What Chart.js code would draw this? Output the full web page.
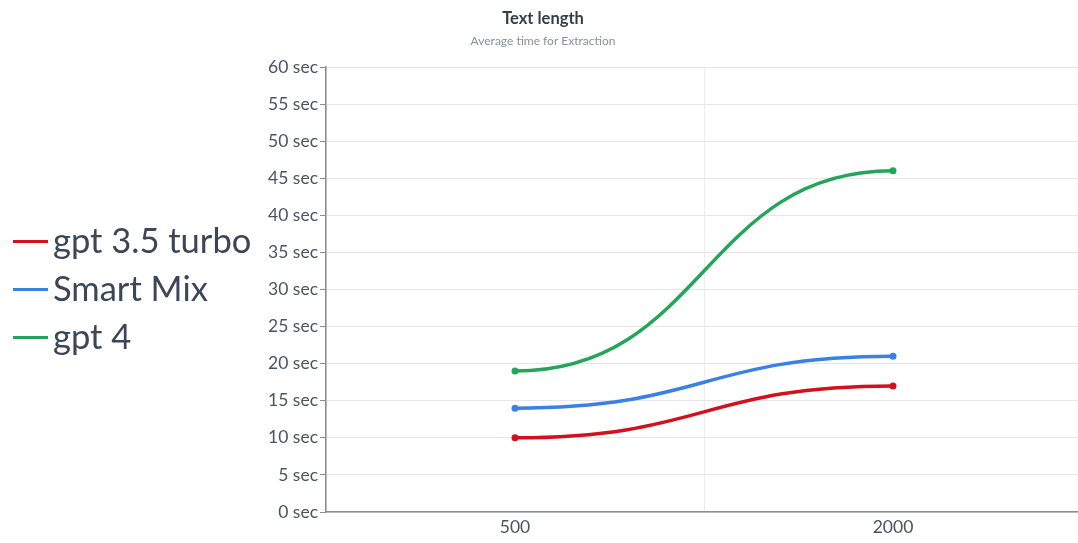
<!DOCTYPE html>
<html>
<head>
<meta charset="utf-8">
<script src="https://cdn.jsdelivr.net/npm/chart.js@4"></script>
<style>
  html, body { margin: 0; padding: 0; background: #fff; overflow: hidden; }
  #wrap { width: 1086px; height: 543px; }
</style>
</head>
<body>
<div id="wrap"><canvas id="lineChart" width="1086" height="543"></canvas></div>
<script>
const textLengths = ["500", "2000"];
const gpt35Turbo = [10, 17];
const smartMix = [14, 21];
const gpt4 = [19, 46];

const textColor = '#3b4656';

// smooth S-curves: horizontal handles at every point
const flatCurve = {
    id: 'flatCurve',
    beforeDatasetDraw(chart, args) {
        const pts = args.meta.data;
        for (let i = 0; i < pts.length; i++) {
            const p = pts[i], prev = pts[i - 1], next = pts[i + 1];
            p.cp1x = prev ? p.x - (p.x - prev.x) / 2 : p.x;
            p.cp1y = p.y;
            p.cp2x = next ? p.x + (next.x - p.x) / 2 : p.x;
            p.cp2y = p.y;
        }
        args.meta.dataset._pointsUpdated = true;
    }
};

// big legend on the left, lines + labels
const sideLegend = {
    id: 'sideLegend',
    afterDraw(chart) {
        const ctx = chart.ctx;
        const area = chart.chartArea;
        const step = 48;
        const sets = chart.data.datasets;
        const y0 = (area.top + area.bottom) / 2 - step * (sets.length - 1) / 2;
        ctx.save();
        ctx.font = '34.5px Lato';
        ctx.textBaseline = 'middle';
        sets.forEach((ds, i) => {
            const y = y0 + i * step;
            ctx.fillStyle = ds.borderColor;
            ctx.fillRect(13, y - 1.5, 35, 3);
            ctx.fillStyle = textColor;
            ctx.fillText(ds.label, 53, y);
        });
        ctx.restore();
    }
};

const ctx = document.getElementById("lineChart").getContext("2d");

const chart = new Chart(ctx, {
    type: 'line',
    data: {
        labels: textLengths,
        datasets: [
            { label: 'gpt 3.5 turbo', data: gpt35Turbo, borderColor: '#d1111e', backgroundColor: '#d1111e' },
            { label: 'Smart Mix', data: smartMix, borderColor: '#3b80e3', backgroundColor: '#3b80e3' },
            { label: 'gpt 4', data: gpt4, borderColor: '#25a559', backgroundColor: '#25a559' }
        ]
    },
    options: {
        responsive: false,
        animation: false,
        layout: { padding: 0 },
        elements: {
            line: { borderWidth: 3.5, tension: 0.4, fill: false },
            point: { radius: 3.5, borderWidth: 0, hoverRadius: 4 }
        },
        plugins: {
            legend: { display: false },
            tooltip: { enabled: false },
            title: {
                display: true,
                text: 'Text length',
                color: '#333d4c',
                font: { family: 'Lato', size: 16.5, weight: 'bold' },
                padding: { top: 9, bottom: 0 }
            },
            subtitle: {
                display: true,
                text: 'Average time for Extraction',
                color: '#8590a3',
                font: { family: 'Lato', size: 12 },
                padding: { top: 5.5, bottom: 18.3 }
            }
        },
        scales: {
            x: {
                offset: true,
                grid: { color: '#ececec', drawTicks: false, offset: true },
                border: { color: '#8c8c8c', width: 1.5 },
                ticks: { color: '#4a5462', font: { family: 'Lato', size: 17.5 }, padding: 5 },
                afterFit(scale) { scale.height = 31; }
            },
            y: {
                min: 0,
                max: 60,
                ticks: {
                    stepSize: 5,
                    color: '#4a5462',
                    font: { family: 'Lato', size: 17.5 },
                    padding: 2,
                    callback: v => v + ' sec'
                },
                grid: { color: '#e6e6e6', tickColor: '#8c8c8c', tickLength: 6 },
                border: { color: '#8c8c8c', width: 1.5 },
                // wide left band holds the legend too
                afterFit(scale) { scale.width = 326; }
            }
        }
    },
    plugins: [flatCurve, sideLegend]
});
</script>
</body>
</html>
